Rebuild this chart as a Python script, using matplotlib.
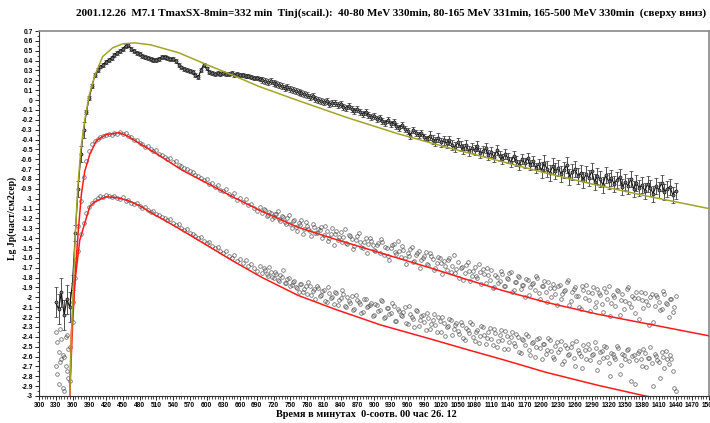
import numpy as np
import matplotlib
matplotlib.use("Agg")
import matplotlib.pyplot as plt
from matplotlib.ticker import MultipleLocator

# time grid, minutes from 00:00 26.12 (one point every 5 min)
t_obs = np.arange(330, 1441, 5)
# in-between samples of the two upper-energy channels (pre-event and decay)
t_obs2 = np.concatenate([np.arange(332.5, 355, 5), np.arange(702.5, 1440, 5)])

# 40-80 MeV, lg of flux
upper_vals = [
    -2.05, -2.12, -1.95, -2.18, -2.02, -2.10, -1.85, -1.35, -0.90, -0.55,
    -0.30, -0.12, 0.02, 0.14, 0.25, 0.30, 0.34, 0.36, 0.39, 0.41,
    0.43, 0.46, 0.48, 0.50, 0.52, 0.55, 0.56, 0.52, 0.50, 0.48,
    0.47, 0.45, 0.44, 0.43, 0.42, 0.41, 0.41, 0.42, 0.44, 0.44,
    0.43, 0.42, 0.42, 0.40, 0.36, 0.33, 0.31, 0.30, 0.29, 0.28,
    0.25, 0.23, 0.30, 0.36, 0.32, 0.28, 0.27, 0.26, 0.27, 0.26,
    0.27, 0.26, 0.26, 0.27, 0.25, 0.26, 0.25, 0.25, 0.24, 0.24,
    0.23, 0.22, 0.22, 0.21, 0.20, 0.19, 0.18, 0.19, 0.17, 0.16,
    0.15, 0.14, 0.12, 0.13, 0.11, 0.10, 0.09, 0.08, 0.07, 0.06,
    0.05, 0.03, 0.04, 0.01, 0.00, -0.01, -0.02, -0.01, -0.04, -0.03,
    -0.03, -0.05, -0.04, -0.07, -0.08, -0.06, -0.09, -0.11, -0.09, -0.12,
    -0.14, -0.12, -0.15, -0.17, -0.16, -0.19, -0.18, -0.21, -0.23, -0.20,
    -0.24, -0.22, -0.26, -0.28, -0.25, -0.29, -0.31, -0.36, -0.30, -0.33,
    -0.35, -0.33, -0.37, -0.39, -0.36, -0.40, -0.42, -0.38, -0.43, -0.41,
    -0.44, -0.41, -0.46, -0.48, -0.43, -0.47, -0.50, -0.46, -0.52, -0.49,
    -0.51, -0.47, -0.54, -0.52, -0.49, -0.56, -0.53, -0.58, -0.51, -0.57,
    -0.60, -0.55, -0.59, -0.63, -0.57, -0.62, -0.66, -0.60, -0.64, -0.59,
    -0.66, -0.62, -0.69, -0.65, -0.71, -0.64, -0.70, -0.74, -0.67, -0.72,
    -0.69, -0.75, -0.71, -0.66, -0.78, -0.73, -0.70, -0.77, -0.74, -0.81,
    -0.75, -0.79, -0.72, -0.83, -0.77, -0.80, -0.86, -0.76, -0.82, -0.79,
    -0.85, -0.81, -0.78, -0.88, -0.83, -0.87, -0.80, -0.90, -0.84, -0.89,
    -0.86, -0.92, -0.85, -0.89, -0.95, -0.87, -0.91, -0.84, -0.93, -0.90,
    -0.88, -0.96, -0.92,
]
# error bar half-size for the 40-80 MeV channel, by time interval
upper_err_from = [330, 360, 385, 700, 1000, 1200]
upper_err_size = [0.15, 0.08, 0.02, 0.03, 0.05, 0.08]

# 80-165 MeV
middle_vals = [
    -2.35, -2.55, -2.42, -2.60, -2.38, -2.50, -2.05, -1.62, -1.28, -1.02,
    -0.78, -0.62, -0.52, -0.45, -0.42, -0.39, -0.37, -0.36, -0.35, -0.34,
    -0.35, -0.33, -0.34, -0.32, -0.34, -0.33, -0.36, -0.37, -0.40, -0.41,
    -0.44, -0.45, -0.48, -0.47, -0.50, -0.52, -0.51, -0.55, -0.56, -0.58,
    -0.60, -0.59, -0.63, -0.62, -0.66, -0.67, -0.69, -0.70, -0.72, -0.73,
    -0.76, -0.77, -0.79, -0.81, -0.80, -0.85, -0.84, -0.88, -0.86, -0.91,
    -0.92, -0.90, -0.95, -0.97, -0.94, -1.01, -0.99, -1.03, -1.00, -1.06,
    -1.05, -1.09, -1.12, -1.08, -1.14, -1.11, -1.17, -1.15, -1.19, -1.16,
    -1.21, -1.18, -1.24, -1.20, -1.26, -1.23, -1.29, -1.25, -1.22, -1.31,
    -1.28, -1.33, -1.26, -1.35, -1.31, -1.29, -1.37, -1.33, -1.40, -1.30,
    -1.36, -1.42, -1.34, -1.39, -1.45, -1.37, -1.41, -1.48, -1.38, -1.44,
    -1.50, -1.40, -1.46, -1.43, -1.52, -1.47, -1.55, -1.44, -1.49, -1.58,
    -1.50, -1.46, -1.56, -1.53, -1.48, -1.60, -1.55, -1.51, -1.64, -1.57,
    -1.53, -1.62, -1.58, -1.66, -1.55, -1.61, -1.70, -1.59, -1.65, -1.63,
    -1.72, -1.60, -1.68, -1.75, -1.64, -1.70, -1.82, -1.67, -1.73, -1.78,
    -1.69, -1.80, -1.74, -1.71, -1.85, -1.77, -1.72, -1.90, -1.79, -1.83,
    -1.76, -1.88, -1.81, -1.74, -1.93, -1.84, -1.79, -1.87, -2.00, -1.82,
    -1.90, -1.85, -1.78, -1.96, -1.88, -1.83, -2.05, -1.91, -1.86, -1.97,
    -1.89, -2.02, -1.94, -1.84, -2.08, -1.95, -1.90, -1.99, -2.12, -1.93,
    -1.87, -2.03, -1.96, -2.10, -1.92, -1.98, -2.15, -1.95, -1.89, -2.06,
    -2.00, -1.93, -2.18, -1.97, -2.04, -1.90, -2.10, -2.01, -1.95, -2.22,
    -2.03, -1.96, -2.08, -2.00, -2.25, -1.98, -2.05, -2.12, -1.97, -2.07,
    -2.02, -2.15, -1.99,
]
middle_vals2 = [
    -2.45, -2.32, -2.58, -2.40, -2.52,
    -1.10, -1.18, -1.13, -1.21, -1.16, -1.12, -1.23, -1.19, -1.26, -1.17,
    -1.30, -1.22, -1.33, -1.27, -1.36, -1.24, -1.31, -1.38, -1.29, -1.35,
    -1.32, -1.40, -1.28, -1.43, -1.36, -1.47, -1.33, -1.39, -1.44, -1.31,
    -1.46, -1.38, -1.51, -1.42, -1.35, -1.49, -1.44, -1.55, -1.40, -1.47,
    -1.53, -1.45, -1.41, -1.57, -1.50, -1.62, -1.47, -1.54, -1.43, -1.59,
    -1.52, -1.66, -1.58, -1.49, -1.63, -1.55, -1.70, -1.60, -1.54, -1.67,
    -1.58, -1.72, -1.65, -1.60, -1.76, -1.68, -1.62, -1.74, -1.57, -1.71,
    -1.80, -1.69, -1.75, -1.64, -1.83, -1.73, -1.78, -1.66, -1.86, -1.76,
    -1.70, -1.82, -1.91, -1.77, -1.85, -1.73, -1.89, -1.80, -1.75, -1.95,
    -1.84, -1.78, -1.92, -1.87, -1.81, -1.98, -1.86, -1.93, -1.80, -2.02,
    -1.89, -1.95, -1.84, -2.00, -1.91, -2.08, -1.87, -1.97, -1.93, -1.82,
    -2.04, -1.92, -1.99, -2.10, -1.88, -2.01, -1.95, -2.14, -1.90, -2.05,
    -1.96, -2.07, -1.91, -2.02, -2.19, -1.98, -2.09, -1.94, -2.03, -2.12,
    -1.92, -2.06, -1.99, -2.16, -2.01, -1.95, -2.11, -2.04, -2.28, -1.97,
    -2.09, -2.00, -2.13, -1.94, -2.06, -2.20, -2.02, -2.10,
]

# 165-500 MeV
lower_vals = [
    -2.70, -2.88, -2.62, -2.95, -2.75, -2.85, -2.25, -1.80, -1.53, -1.36,
    -1.25, -1.15, -1.08, -1.04, -1.01, -0.99, -0.97, -0.98, -0.96, -0.97,
    -0.98, -0.97, -0.99, -1.00, -0.98, -1.02, -1.01, -1.04, -1.05, -1.04,
    -1.07, -1.09, -1.08, -1.11, -1.13, -1.12, -1.16, -1.17, -1.19, -1.20,
    -1.22, -1.21, -1.25, -1.27, -1.26, -1.30, -1.32, -1.31, -1.35, -1.36,
    -1.38, -1.40, -1.39, -1.43, -1.45, -1.44, -1.48, -1.50, -1.49, -1.53,
    -1.55, -1.53, -1.58, -1.60, -1.57, -1.63, -1.61, -1.65, -1.62, -1.68,
    -1.66, -1.70, -1.73, -1.68, -1.75, -1.72, -1.78, -1.74, -1.80, -1.76,
    -1.83, -1.79, -1.85, -1.81, -1.88, -1.84, -1.90, -1.95, -1.86, -1.92,
    -1.97, -1.89, -1.94, -2.02, -1.91, -1.98, -1.93, -2.05, -1.96, -2.00,
    -1.95, -2.08, -2.01, -1.97, -2.10, -2.04, -1.99, -2.12, -2.03, -2.07,
    -2.15, -2.02, -2.09, -2.06, -2.18, -2.08, -2.13, -2.04, -2.20, -2.11,
    -2.16, -2.09, -2.24, -2.14, -2.19, -2.10, -2.27, -2.17, -2.22, -2.13,
    -2.29, -2.19, -2.25, -2.16, -2.32, -2.23, -2.28, -2.20, -2.35, -2.26,
    -2.30, -2.22, -2.38, -2.28, -2.34, -2.25, -2.41, -2.31, -2.36, -2.27,
    -2.44, -2.33, -2.39, -2.30, -2.47, -2.35, -2.42, -2.32, -2.50, -2.38,
    -2.43, -2.34, -2.52, -2.40, -2.46, -2.37, -2.55, -2.42, -2.48, -2.39,
    -2.58, -2.45, -2.50, -2.41, -2.62, -2.47, -2.53, -2.43, -2.60, -2.49,
    -2.55, -2.44, -2.65, -2.51, -2.57, -2.46, -2.70, -2.53, -2.59, -2.48,
    -2.63, -2.52, -2.58, -2.45, -2.74, -2.55, -2.61, -2.50, -2.67, -2.56,
    -2.60, -2.49, -2.78, -2.57, -2.63, -2.52, -2.85, -2.58, -2.64, -2.54,
    -2.70, -2.56, -2.61, -2.50, -2.90, -2.59, -2.66, -2.55, -2.72, -2.62,
    -2.58, -2.75, -2.95,
]
lower_vals2 = [
    -2.78, -2.66, -2.92, -2.70, -2.82,
    -1.70, -1.76, -1.69, -1.79, -1.74, -1.82, -1.77, -1.72, -1.85, -1.80,
    -1.87, -1.83, -1.91, -1.86, -1.95, -1.89, -1.84, -1.98, -1.92, -1.88,
    -1.99, -1.94, -2.04, -1.90, -2.01, -2.07, -1.96, -2.03, -1.93, -2.09,
    -2.00, -2.06, -2.13, -1.98, -2.05, -2.16, -2.02, -2.10, -2.08, -2.19,
    -2.07, -2.14, -2.03, -2.21, -2.11, -2.17, -2.06, -2.24, -2.12, -2.18,
    -2.15, -2.26, -2.09, -2.20, -2.30, -2.14, -2.23, -2.18, -2.33, -2.21,
    -2.27, -2.17, -2.35, -2.24, -2.20, -2.39, -2.29, -2.23, -2.32, -2.26,
    -2.37, -2.28, -2.43, -2.33, -2.25, -2.40, -2.35, -2.46, -2.29, -2.38,
    -2.41, -2.31, -2.48, -2.36, -2.44, -2.33, -2.52, -2.39, -2.45, -2.35,
    -2.49, -2.40, -2.56, -2.43, -2.37, -2.53, -2.46, -2.60, -2.42, -2.51,
    -2.47, -2.57, -2.41, -2.54, -2.63, -2.45, -2.52, -2.68, -2.48, -2.58,
    -2.50, -2.61, -2.44, -2.56, -2.72, -2.53, -2.47, -2.64, -2.57, -2.51,
    -2.66, -2.54, -2.49, -2.60, -2.80, -2.57, -2.62, -2.51, -2.69, -2.58,
    -2.53, -2.65, -2.59, -2.88, -2.56, -2.63, -2.52, -2.71, -2.61, -2.67,
    -2.57, -2.64, -2.82, -2.60, -2.54, -2.68, -2.62, -2.92,
]

# model (diffusion) curves
fit_upper_t = [355, 358, 362, 366, 370, 375, 382, 390, 400, 414, 432, 450, 471,
               500, 550, 600, 650, 693, 764, 853, 942, 1031, 1120, 1208, 1297,
               1386, 1500]
fit_upper_y = [-3.0, -2.4, -1.8, -1.25, -0.85, -0.5, -0.2, 0.05, 0.25, 0.44,
               0.53, 0.57, 0.58, 0.56, 0.48, 0.36, 0.245, 0.14, -0.005, -0.18,
               -0.34, -0.48, -0.61, -0.74, -0.86, -0.97, -1.10]

fit_middle_t = [355, 360, 365, 370, 376, 382, 391, 403, 420, 444, 460, 480,
                515, 556, 600, 650, 700, 764, 830, 912, 1000, 1061, 1130,
                1208, 1300, 1400, 1500]
fit_middle_y = [-3.0, -2.3, -1.75, -1.35, -0.95, -0.72, -0.55, -0.41, -0.35,
                -0.33, -0.37, -0.44, -0.56, -0.71, -0.84, -0.99, -1.13, -1.29,
                -1.41, -1.55, -1.70, -1.81, -1.93, -2.05, -2.17, -2.28, -2.39]

fit_lower_t = [355, 358, 364, 373, 385, 391, 400, 421, 440, 460, 480, 500,
               550, 600, 650, 700, 764, 830, 912, 1000, 1061, 1130, 1208,
               1300, 1386, 1500]
fit_lower_y = [-3.0, -2.36, -1.86, -1.42, -1.19, -1.08, -1.03, -0.98, -0.99,
               -1.02, -1.07, -1.14, -1.30, -1.47, -1.64, -1.80, -1.98, -2.12,
               -2.28, -2.42, -2.52, -2.63, -2.76, -2.89, -3.0, -3.12]

title = ("2001.12.26  M7.1 TmaxSX-8min=332 min  Tinj(scail.):  40-80 MeV 330min, "
         "80-165 MeV 331min, 165-500 MeV 330min  (сверху вниз)")

upper_err = np.array(upper_err_size)[np.searchsorted(upper_err_from, t_obs, side="right") - 1]

fig = plt.figure(figsize=(7.1, 4.23), dpi=100)
ax = fig.add_axes([39/710, 27/423, 670/710, 365/423])

serif = ["Liberation Serif", "DejaVu Serif"]
ticks_font = ["Liberation Sans", "DejaVu Sans"]

# scattered channels
for tt, vals in ((t_obs, middle_vals), (t_obs, lower_vals),
                 (t_obs2, middle_vals2), (t_obs2, lower_vals2)):
    ax.plot(tt, vals, ls="none", marker="o", ms=2.6, mfc="none",
            mec="#3a3a3a", mew=0.6, alpha=0.7, zorder=2)

# 40-80 MeV with errors
ax.errorbar(t_obs, upper_vals, yerr=upper_err, color="#111111", lw=0.8,
            marker="o", ms=2.2, mfc="#777777", mec="#111111", mew=0.5,
            ecolor="#333333", elinewidth=0.6, capsize=1.2, zorder=3)

ax.plot(fit_middle_t, fit_middle_y, color="#ff1a1a", lw=1.1, zorder=4)
ax.plot(fit_lower_t, fit_lower_y, color="#ff1a1a", lw=1.1, zorder=4)
ax.plot(fit_upper_t, fit_upper_y, color="#a3a328", lw=1.1, zorder=4)

ax.set_xlim(300, 1500)
ax.set_ylim(-3, 0.7)
ax.xaxis.set_major_locator(MultipleLocator(30))
ax.xaxis.set_minor_locator(MultipleLocator(5))
ax.yaxis.set_major_locator(MultipleLocator(0.1))
ax.yaxis.set_minor_locator(MultipleLocator(0.05))
ax.yaxis.set_major_formatter(plt.FuncFormatter(lambda v, p: "%g" % round(v, 1)))

ax.tick_params(which="major", length=3, width=0.6, labelsize=4.8, pad=1.5)
ax.tick_params(which="minor", length=1.8, width=0.5)
for lab in ax.get_xticklabels() + ax.get_yticklabels():
    lab.set_family(ticks_font)
    lab.set_fontweight("bold")

for side in ("left", "bottom"):
    ax.spines[side].set_color("#333333")
    ax.spines[side].set_linewidth(0.8)
for side in ("top", "right"):
    ax.spines[side].set_color("#888888")
    ax.spines[side].set_linewidth(1.2)

fig.text(391/710, 1 - 13/423, title, ha="center", va="center",
         family=serif, fontweight="bold", fontsize=8.0)
fig.text(366/710, 1 - 414/423, "Время в минутах  0-соотв. 00 час 26. 12",
         ha="center", va="center", family=serif, fontweight="bold", fontsize=7.4)
fig.text(12/710, 1 - 218/423, "Lg Jp(част/см2сер)", rotation=90,
         ha="center", va="center", family=serif, fontweight="bold", fontsize=7.0)

fig.savefig("out.png", dpi=100)
